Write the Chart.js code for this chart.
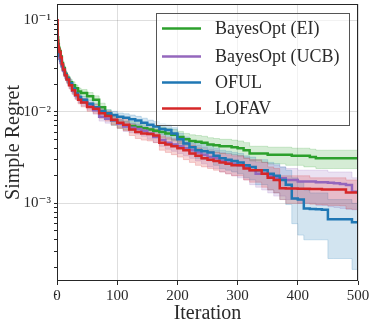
<!DOCTYPE html>
<html><head><meta charset="utf-8">
<script src="https://cdn.jsdelivr.net/npm/chart.js@4"></script>
<style>html,body{margin:0;padding:0;background:#fff}#wrap{width:374px;height:326px}</style>
</head><body><div id="wrap"><canvas id="c" width="374" height="326"></canvas></div>
<script>
// ---------- data ----------
const iterations = [0,1,2,3,4,6,8,10,13,16,20,25,30,35,40,50,60,70,80,90,100,110,120,130,140,150,160,170,180,190,200,210,220,230,240,250,260,270,280,290,300,310,320,330,340,350,360,370,380,390,400,410,420,430,440,450,460,470,480,490,500];

const eiMean = [0.09,0.065,0.055,0.05,0.046,0.04,0.034,0.030,0.026,0.0235,0.021,0.0195,0.018,0.0166,0.016,0.0148,0.0135,0.0112,0.0095,0.0080,0.0074,0.0071,0.0070,0.0068,0.0066,0.0064,0.0062,0.0060,0.0058,0.0056,0.0053,0.0050,0.0048,0.0047,0.0046,0.0044,0.0043,0.0042,0.0042,0.0041,0.0040,0.0038,0.0035,0.0035,0.0035,0.0034,0.0034,0.0034,0.0034,0.0033,0.0033,0.0033,0.0032,0.0031,0.0031,0.0031,0.0031,0.0031,0.0031,0.0031,0.0031];
const eiLow = [0.083,0.060,0.050,0.046,0.042,0.037,0.031,0.0275,0.024,0.0215,0.0193,0.0178,0.0164,0.0151,0.0145,0.0134,0.0121,0.0100,0.0085,0.0071,0.0066,0.0063,0.0062,0.0060,0.0058,0.0056,0.0054,0.0052,0.0050,0.0048,0.0045,0.0043,0.0041,0.0040,0.0039,0.0037,0.0036,0.0035,0.0035,0.0034,0.0033,0.0031,0.0029,0.0029,0.0028,0.0027,0.0027,0.0027,0.0026,0.0026,0.0026,0.0025,0.0025,0.0024,0.0024,0.0024,0.0024,0.0024,0.0024,0.0024,0.0024];
const eiHigh = [0.097,0.070,0.060,0.054,0.050,0.043,0.037,0.0325,0.028,0.0255,0.0228,0.0212,0.0196,0.0181,0.0175,0.0162,0.0149,0.0124,0.0105,0.0089,0.0082,0.0079,0.0078,0.0076,0.0074,0.0072,0.0070,0.0068,0.0066,0.0064,0.0061,0.0058,0.0056,0.0055,0.0054,0.0052,0.0051,0.0050,0.0050,0.0049,0.0048,0.0046,0.0042,0.0042,0.0042,0.0041,0.0041,0.0041,0.0041,0.0040,0.0040,0.0040,0.0039,0.0038,0.0038,0.0038,0.0038,0.0038,0.0038,0.0038,0.0038];

const ucbMean = [0.05,0.045,0.042,0.040,0.038,0.034,0.031,0.028,0.025,0.0225,0.0198,0.017,0.015,0.0138,0.0128,0.0115,0.0104,0.0088,0.0084,0.0080,0.0074,0.0069,0.0067,0.0065,0.0062,0.0058,0.0053,0.0049,0.0046,0.0044,0.0042,0.0040,0.0038,0.0036,0.0034,0.0032,0.0031,0.0029,0.0028,0.0027,0.0026,0.0025,0.0023,0.0021,0.0021,0.0020,0.0019,0.00188,0.0018,0.0018,0.00173,0.00173,0.00173,0.0017,0.0017,0.00168,0.00166,0.00163,0.00159,0.00134,0.00134];
const ucbLow = [0.045,0.041,0.038,0.036,0.034,0.031,0.028,0.0255,0.0227,0.0204,0.018,0.0154,0.0136,0.0125,0.0116,0.0104,0.0094,0.0079,0.0075,0.0071,0.0066,0.0061,0.0059,0.0057,0.0054,0.0050,0.0046,0.0042,0.0039,0.0037,0.0035,0.0033,0.0031,0.0029,0.0027,0.0025,0.0024,0.0022,0.0021,0.0020,0.0019,0.0018,0.0016,0.0015,0.0014,0.0013,0.0012,0.0012,0.0011,0.0011,0.0010,0.0010,0.0010,0.00095,0.00095,0.00092,0.00090,0.00088,0.00086,0.00085,0.00085];
const ucbHigh = [0.055,0.049,0.046,0.044,0.042,0.037,0.034,0.0305,0.0273,0.0246,0.0216,0.0186,0.0164,0.0151,0.014,0.0126,0.0114,0.0097,0.0093,0.0089,0.0082,0.0077,0.0075,0.0073,0.0070,0.0066,0.0060,0.0056,0.0053,0.0051,0.0049,0.0047,0.0045,0.0043,0.0041,0.0039,0.0038,0.0036,0.0035,0.0034,0.0033,0.0032,0.0030,0.0028,0.0028,0.0027,0.0026,0.0025,0.0024,0.0024,0.0023,0.0023,0.0023,0.0023,0.0023,0.0022,0.0022,0.0022,0.0022,0.0019,0.0019];

const ofulMean = [0.07,0.055,0.048,0.044,0.041,0.036,0.032,0.029,0.0255,0.023,0.0205,0.0178,0.0158,0.0145,0.0135,0.0122,0.0112,0.0102,0.0096,0.0092,0.0088,0.0086,0.0083,0.0080,0.0076,0.0072,0.0069,0.0065,0.0063,0.0058,0.0050,0.0045,0.0041,0.0038,0.0037,0.0036,0.0033,0.0031,0.0030,0.0029,0.0028,0.0026,0.0025,0.0023,0.0023,0.0021,0.0020,0.0018,0.0016,0.00113,0.00110,0.00088,0.00087,0.00086,0.00085,0.00067,0.00067,0.00067,0.00067,0.00062,0.00061];
const ofulLow = [0.064,0.050,0.044,0.040,0.037,0.033,0.029,0.0265,0.0232,0.021,0.0187,0.0162,0.0144,0.0132,0.0123,0.0111,0.0102,0.0093,0.0087,0.0083,0.0079,0.0077,0.0074,0.0071,0.0067,0.0063,0.0060,0.0056,0.0054,0.0049,0.0042,0.0038,0.0034,0.0031,0.0030,0.0029,0.0026,0.0024,0.0023,0.0022,0.0021,0.0019,0.0018,0.0016,0.0016,0.0014,0.0013,0.0011,0.00097,0.00060,0.00045,0.00040,0.00040,0.00040,0.00040,0.00025,0.00025,0.00025,0.00025,0.00019,0.00019];
const ofulHigh = [0.076,0.060,0.052,0.048,0.045,0.039,0.035,0.0315,0.0278,0.025,0.0223,0.0194,0.0172,0.0158,0.0147,0.0133,0.0122,0.0111,0.0105,0.0101,0.0097,0.0095,0.0092,0.0089,0.0085,0.0081,0.0078,0.0074,0.0072,0.0067,0.0058,0.0053,0.0048,0.0045,0.0044,0.0043,0.0040,0.0038,0.0037,0.0036,0.0035,0.0033,0.0032,0.0030,0.0030,0.0028,0.0027,0.0025,0.0023,0.0019,0.0017,0.0014,0.0013,0.0013,0.0013,0.0011,0.0011,0.0011,0.0011,0.0010,0.0010];

const lofavMean = [0.10,0.06,0.052,0.048,0.045,0.039,0.033,0.029,0.025,0.0225,0.0195,0.0172,0.0152,0.0135,0.0126,0.0113,0.0108,0.0096,0.0090,0.0082,0.0076,0.0072,0.0064,0.0060,0.0058,0.0057,0.0055,0.0046,0.0044,0.0042,0.0040,0.0038,0.0035,0.0033,0.0031,0.0030,0.0029,0.0028,0.0027,0.0026,0.0026,0.0024,0.0023,0.0023,0.0021,0.0019,0.0018,0.00146,0.00145,0.00145,0.00144,0.00144,0.00143,0.00143,0.00142,0.00142,0.00142,0.00142,0.00131,0.00131,0.00131];
const lofavLow = [0.092,0.055,0.048,0.044,0.041,0.036,0.030,0.0265,0.0228,0.0205,0.0177,0.0156,0.0138,0.0122,0.0113,0.0101,0.0096,0.0085,0.0079,0.0072,0.0066,0.0062,0.0055,0.0051,0.0049,0.0048,0.0046,0.0038,0.0036,0.0034,0.0032,0.0030,0.0028,0.0026,0.0025,0.0024,0.0023,0.0022,0.0021,0.0020,0.0020,0.0018,0.0017,0.0017,0.0015,0.0014,0.0013,0.0011,0.0010,0.0010,0.0010,0.0010,0.00098,0.00097,0.00096,0.00095,0.00095,0.00094,0.00087,0.00086,0.00086];
const lofavHigh = [0.108,0.065,0.056,0.052,0.049,0.042,0.036,0.0315,0.0272,0.0245,0.0213,0.0188,0.0166,0.0148,0.0139,0.0125,0.0120,0.0107,0.0101,0.0092,0.0086,0.0082,0.0073,0.0069,0.0067,0.0066,0.0064,0.0054,0.0052,0.0050,0.0048,0.0046,0.0043,0.0040,0.0038,0.0037,0.0036,0.0035,0.0034,0.0033,0.0033,0.0031,0.0030,0.0030,0.0028,0.0025,0.0024,0.0020,0.0020,0.0020,0.0020,0.0020,0.0019,0.0019,0.0019,0.0019,0.0019,0.0019,0.0018,0.0018,0.0018];

const seriesLabels = ['BayesOpt (EI)', 'BayesOpt (UCB)', 'OFUL', 'LOFAV'];
const xTickValues = [0, 100, 200, 300, 400, 500];
const yMajorTicks = [1e-3, 1e-2, 1e-1];
const yTickLabels = ['10\u207B\u00B3', '10\u207B\u00B2', '10\u207B\u00B9'];

// ---------- styling ----------
const FONT = "'Liberation Serif', 'DejaVu Serif', serif";
const TEXT = '#2a2a2a';
const colors = ['#2ca02c', '#9467bd', '#1f77b4', '#d62728'];
const bandColors = ['rgba(44,160,44,0.2)', 'rgba(148,103,189,0.2)', 'rgba(31,119,180,0.2)', 'rgba(214,39,40,0.2)'];
const means = [eiMean, ucbMean, ofulMean, lofavMean];
const lows = [eiLow, ucbLow, ofulLow, lofavLow];
const highs = [eiHigh, ucbHigh, ofulHigh, lofavHigh];
const toPts = arr => iterations.map((x, i) => ({x: x, y: arr[i]}));

const datasets = [];
means.forEach((m, i) => {
  datasets.push({
    label: seriesLabels[i], data: toPts(m), borderColor: colors[i], backgroundColor: colors[i],
    borderWidth: 2.5, pointRadius: 0, stepped: true, fill: false, order: 4 - i
  });
});
means.forEach((m, i) => {
  const upIdx = datasets.length;
  datasets.push({
    label: '_up' + i, data: toPts(highs[i]), borderColor: bandColors[i], borderWidth: 1,
    pointRadius: 0, stepped: true, fill: false, order: 20 - i
  });
  datasets.push({
    label: '_lo' + i, data: toPts(lows[i]), borderColor: bandColors[i], borderWidth: 1,
    backgroundColor: bandColors[i], pointRadius: 0, stepped: true, fill: upIdx, order: 20 - i
  });
});

const yAllTicks = [];
yMajorTicks.forEach(v => { for (let k = 1; k <= 9; k++) yAllTicks.push(v / 10 * k); });
yAllTicks.push(0.1);
const isMajor = v => yMajorTicks.some(t => Math.abs(v - t) / t < 1e-6);

const framePlugin = {
  id: 'frame',
  afterDatasetsDraw(chart) {
    const a = chart.chartArea, ctx = chart.ctx;
    ctx.save();
    ctx.strokeStyle = '#262626'; ctx.lineWidth = 1;
    ctx.strokeRect(Math.round(a.left) + 0.5, Math.round(a.top) + 0.5, Math.round(a.right - a.left) - 1, Math.round(a.bottom - a.top) - 1);
    ctx.restore();
  }
};
const legendPlugin = {
  id: 'boxLegend',
  afterDraw(chart) {
    const ctx = chart.ctx;
    const x0 = 156.5, y0 = 13.5, w = 193, h = 112;
    ctx.save();
    ctx.fillStyle = 'rgba(255,255,255,0.6)';
    ctx.fillRect(x0, y0, w, h);
    ctx.strokeStyle = '#555'; ctx.lineWidth = 1;
    ctx.strokeRect(x0, y0, w, h);
    const rows = [28.5, 56.5, 82.5, 108.5];
    ctx.font = "18px " + FONT;
    ctx.textBaseline = 'middle';
    ctx.fillStyle = TEXT;
    for (let i = 0; i < 4; i++) {
      const ds = chart.data.datasets[i];
      ctx.strokeStyle = ds.borderColor; ctx.lineWidth = 2.5;
      ctx.beginPath(); ctx.moveTo(162, rows[i]); ctx.lineTo(201, rows[i]); ctx.stroke();
      ctx.fillText(ds.label, 215, rows[i] + 1);
    }
    ctx.restore();
  }
};

new Chart(document.getElementById('c'), {
  type: 'line',
  data: { datasets: datasets },
  options: {
    responsive: false, animation: false, devicePixelRatio: 1,
    layout: { padding: { top: 4, right: 16, bottom: 0, left: 0 } },
    plugins: { legend: { display: false }, tooltip: { enabled: false } },
    scales: {
      x: {
        type: 'linear', min: 0, max: 500,
        afterBuildTicks: s => { s.ticks = xTickValues.map(v => ({ value: v })); },
        afterFit: s => { s.height = 45; s.paddingLeft = 0; s.paddingRight = 0; },
        ticks: { font: { family: FONT, size: 15 }, color: TEXT, padding: 2, maxRotation: 0, autoSkip: false },
        grid: { color: 'rgba(0,0,0,0.13)', lineWidth: 1, tickColor: '#262626', tickLength: 4 },
        border: { display: false },
        title: { display: true, text: 'Iteration', font: { family: FONT, size: 20 }, color: TEXT, padding: { top: -2, bottom: 0 } }
      },
      y: {
        type: 'logarithmic', min: 1.42e-4, max: 0.15,
        afterBuildTicks: s => { s.ticks = yAllTicks.map(v => ({ value: v })); },
        afterFit: s => { s.width = 57; s.paddingTop = 0; s.paddingBottom = 0; },
        ticks: {
          font: { family: FONT, size: 15 }, color: TEXT, padding: 3, autoSkip: false,
          callback: v => { const j = yMajorTicks.findIndex(t => Math.abs(v - t) / t < 1e-6); return j >= 0 ? yTickLabels[j] : ''; }
        },
        grid: {
          color: c => (c.tick && isMajor(c.tick.value)) ? 'rgba(0,0,0,0.13)' : 'rgba(0,0,0,0)',
          tickColor: '#262626', tickLength: 3, lineWidth: 1
        },
        border: { display: false },
        title: { display: true, text: 'Simple Regret', font: { family: FONT, size: 20 }, color: TEXT, padding: { top: 2, bottom: 0 } }
      }
    }
  },
  plugins: [framePlugin, legendPlugin]
});
</script></body></html>
